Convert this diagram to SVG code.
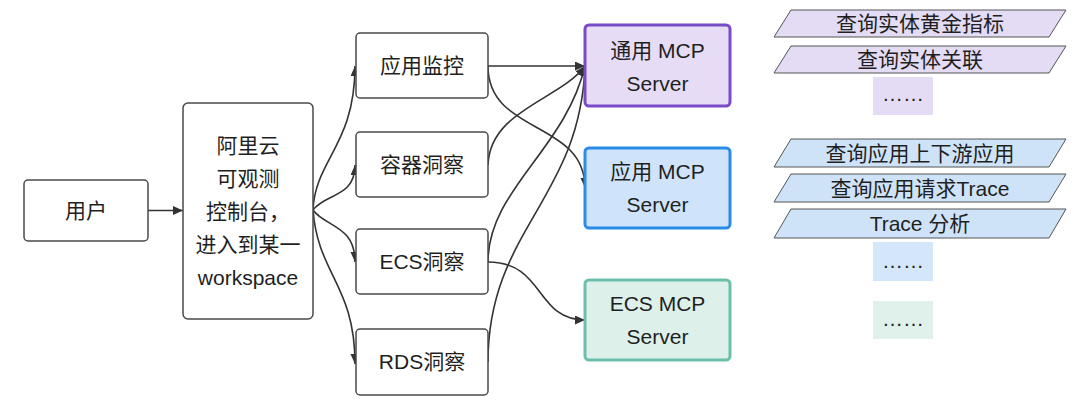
<svg xmlns="http://www.w3.org/2000/svg" width="1080" height="406" viewBox="0 0 1080 406">
<style>
  text { font-family: "Liberation Sans", "Noto Sans CJK SC", sans-serif; font-size: 21px; fill: #1f1f1f; text-anchor: middle; }
  .box { fill: #ffffff; stroke: #4a4a4a; stroke-width: 1.5; }
  .conn { fill: none; stroke: #333333; stroke-width: 1.6; marker-end: url(#arr); }
  .srvP { fill: #e6dcf6; stroke: #7a4bc6; stroke-width: 3; }
  .srvB { fill: #cfe4fa; stroke: #2b8be6; stroke-width: 3; }
  .srvG { fill: #ddf0ea; stroke: #6cbfaa; stroke-width: 3; }
  .parP { fill: #e4dbf4; stroke: #555555; stroke-width: 1; }
  .parB { fill: #cfe3f8; stroke: #555555; stroke-width: 1; }
  .dotP { fill: #e4dbf4; }
  .dotB { fill: #d4e6f9; }
  .dotG { fill: #e0f0ea; }
</style>
<defs>
  <marker id="arr" markerUnits="userSpaceOnUse" markerWidth="11" markerHeight="10" refX="10" refY="4.5" orient="auto">
    <path d="M0,0 L10,4.5 L0,9 z" fill="#333333"/>
  </marker>
</defs>
<rect width="1080" height="406" fill="#ffffff"/>

<g id="connectors">
  <path class="conn" d="M148,210.5 L183,210.5"/>
  <path class="conn" d="M313,210 C315,160 355,145 355,66"/>
  <path class="conn" d="M313,210 C325,193 355,198 355,165"/>
  <path class="conn" d="M313,210 C325,227 355,225 355,262"/>
  <path class="conn" d="M313,210 C318,275 355,285 355,364"/>
  <path class="conn" d="M488,66 L585,66"/>
  <path class="conn" d="M488,66 C488,135 585,120 585,188"/>
  <path class="conn" d="M488,165 C490,110 560,100 585,66"/>
  <path class="conn" d="M488,262 C488,190 565,150 585,66"/>
  <path class="conn" d="M488,362 C488,230 580,200 585,66"/>
  <path class="conn" d="M488,262 C545,262 535,320 585,320"/>
</g>

<g id="user">
  <rect class="box" x="24" y="180" width="124" height="61" rx="4"/>
  <text x="86" y="218">用户</text>
</g>

<g id="console">
  <rect class="box" x="183" y="103" width="130" height="216" rx="5"/>
  <text x="248" y="153">阿里云</text>
  <text x="248" y="186">可观测</text>
  <text x="248" y="219">控制台，</text>
  <text x="248" y="252">进入到某一</text>
  <text x="248" y="285">workspace</text>
</g>

<g id="apm">
  <rect class="box" x="356" y="33" width="132" height="65" rx="4"/>
  <text x="422" y="73">应用监控</text>
</g>
<g id="container">
  <rect class="box" x="356" y="132" width="132" height="65" rx="4"/>
  <text x="422" y="172">容器洞察</text>
</g>
<g id="ecs">
  <rect class="box" x="356" y="229" width="132" height="65" rx="4"/>
  <text x="422" y="269">ECS洞察</text>
</g>
<g id="rds">
  <rect class="box" x="356" y="329" width="132" height="66" rx="4"/>
  <text x="422" y="369">RDS洞察</text>
</g>

<g id="mcp-general">
  <rect class="srvP" x="585" y="25" width="145" height="81" rx="4"/>
  <text x="657.5" y="57.5">通用 MCP</text>
  <text x="657.5" y="90.5">Server</text>
</g>
<g id="mcp-app">
  <rect class="srvB" x="585" y="148" width="145" height="80" rx="4"/>
  <text x="657.5" y="179">应用 MCP</text>
  <text x="657.5" y="212">Server</text>
</g>
<g id="mcp-ecs">
  <rect class="srvG" x="585" y="280" width="145" height="80" rx="4"/>
  <text x="657.5" y="311">ECS MCP</text>
  <text x="657.5" y="344">Server</text>
</g>

<g id="tool-golden">
  <polygon class="parP" points="791,10 1066,10 1049,37 774,37"/>
  <text x="920" y="31">查询实体黄金指标</text>
</g>
<g id="tool-relation">
  <polygon class="parP" points="791,46 1066,46 1049,73 774,73"/>
  <text x="920" y="67">查询实体关联</text>
</g>
<g id="tool-more-general">
  <rect class="dotP" x="873" y="77" width="60" height="38"/>
  <text x="903" y="101">……</text>
</g>
<g id="tool-updown">
  <polygon class="parB" points="791,139 1066,139 1049,167 774,167"/>
  <text x="920" y="160.5">查询应用上下游应用</text>
</g>
<g id="tool-trace">
  <polygon class="parB" points="791,174 1066,174 1049,202 774,202"/>
  <text x="920" y="195.5">查询应用请求Trace</text>
</g>
<g id="tool-analysis">
  <polygon class="parB" points="791,209 1066,209 1049,238 774,238"/>
  <text x="920" y="231">Trace 分析</text>
</g>
<g id="tool-more-app">
  <rect class="dotB" x="873" y="242" width="60" height="39"/>
  <text x="903" y="268">……</text>
</g>
<g id="tool-more-ecs">
  <rect class="dotG" x="873" y="301" width="60" height="38"/>
  <text x="903" y="326">……</text>
</g>
</svg>
